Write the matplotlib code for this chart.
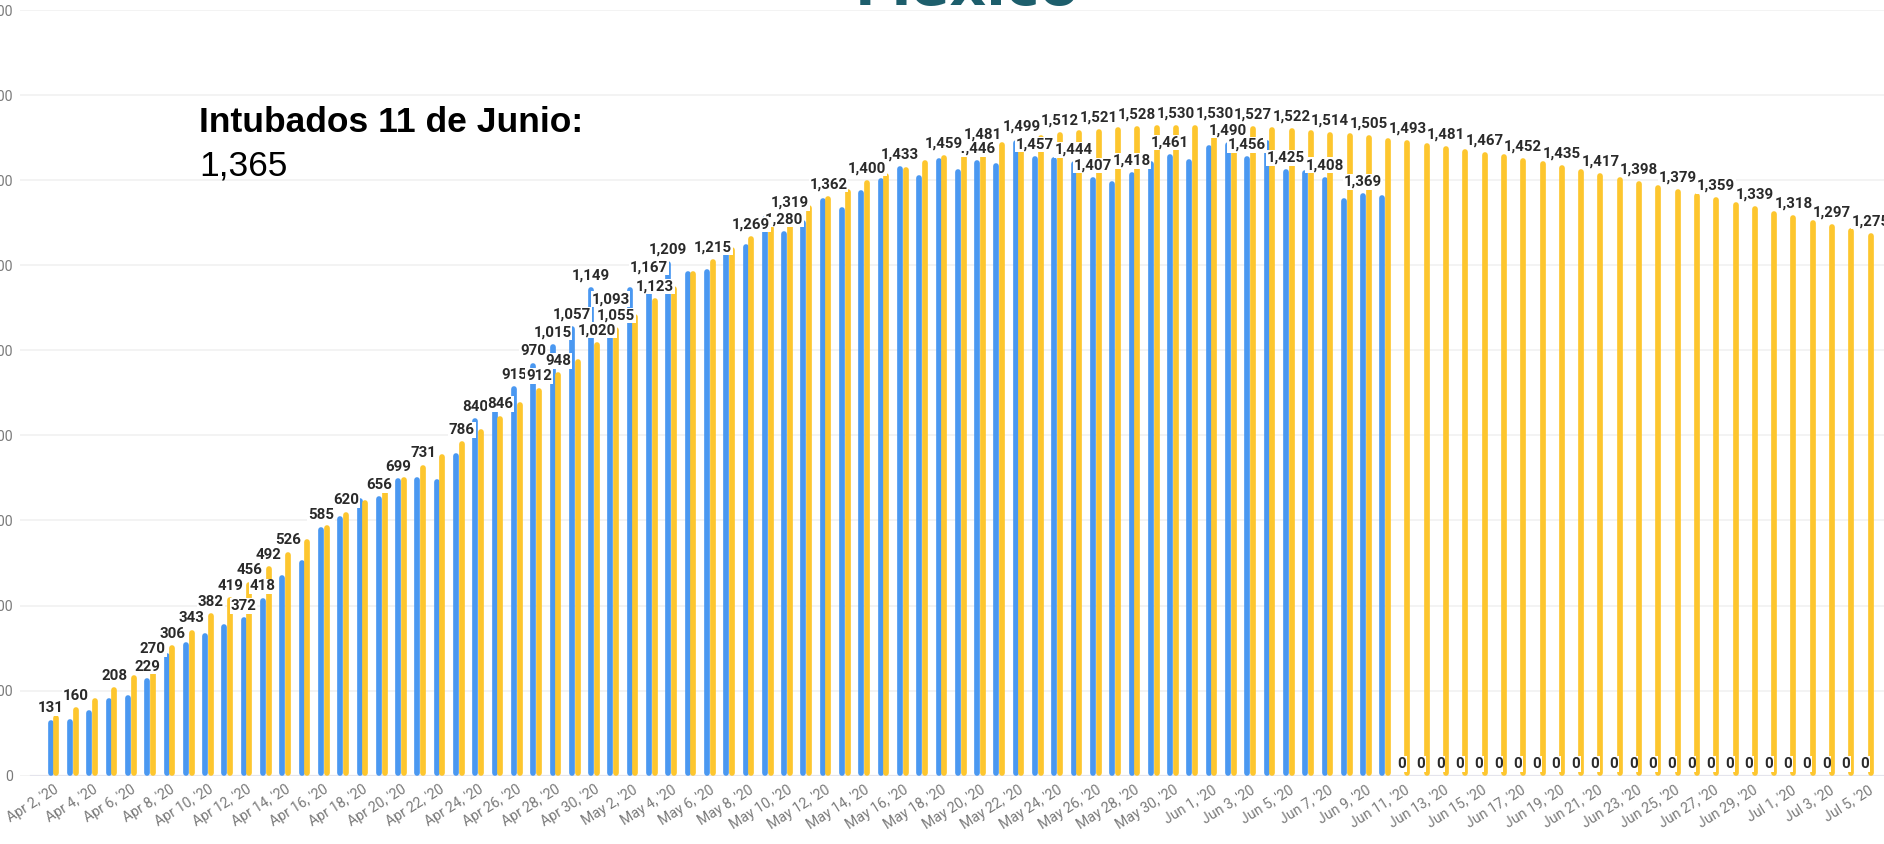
import matplotlib.pyplot as plt
import numpy as np

# intubados reales (azul) y modelo (amarillo), Apr 2 - Jul 5 2020
intubados = [131, 134, 153, 183, 190, 229, 289, 314, 335, 357,
             372, 418, 472, 506, 585, 609, 653, 656, 699, 702,
             698, 759, 840, 864, 915, 970, 1015, 1057, 1149, 1093,
             1148, 1167, 1209, 1185, 1190, 1232, 1250, 1316, 1280, 1305,
             1358, 1337, 1376, 1405, 1433, 1411, 1452, 1427, 1446, 1439,
             1493, 1457, 1454, 1444, 1407, 1397, 1418, 1444, 1461, 1449,
             1482, 1490, 1456, 1493, 1425, 1423, 1408, 1358, 1369, 1365,
             0, 0, 0, 0, 0, 0, 0, 0, 0, 0,
             0, 0, 0, 0, 0, 0, 0, 0, 0, 0,
             0, 0, 0, 0, 0]
modelo = [142, 160, 183, 208, 237, 270, 306, 343, 382, 419,
          456, 492, 526, 557, 590, 620, 647, 675, 702, 731,
          757, 786, 814, 846, 878, 912, 948, 980, 1020, 1055,
          1086, 1123, 1151, 1185, 1215, 1243, 1269, 1294, 1319, 1341,
          1362, 1380, 1400, 1416, 1431, 1446, 1459, 1470, 1481, 1490,
          1499, 1505, 1512, 1517, 1521, 1525, 1528, 1529, 1530, 1530,
          1530, 1529, 1527, 1525, 1522, 1518, 1514, 1510, 1505, 1499,
          1493, 1487, 1481, 1474, 1467, 1460, 1452, 1444, 1435, 1426,
          1417, 1408, 1398, 1389, 1379, 1369, 1359, 1349, 1339, 1328,
          1318, 1307, 1297, 1286, 1275]

tick_labels = ["Apr 2, '20", "Apr 4, '20", "Apr 6, '20", "Apr 8, '20", "Apr 10, '20",
               "Apr 12, '20", "Apr 14, '20", "Apr 16, '20", "Apr 18, '20", "Apr 20, '20",
               "Apr 22, '20", "Apr 24, '20", "Apr 26, '20", "Apr 28, '20", "Apr 30, '20",
               "May 2, '20", "May 4, '20", "May 6, '20", "May 8, '20", "May 10, '20",
               "May 12, '20", "May 14, '20", "May 16, '20", "May 18, '20", "May 20, '20",
               "May 22, '20", "May 24, '20", "May 26, '20", "May 28, '20", "May 30, '20",
               "Jun 1, '20", "Jun 3, '20", "Jun 5, '20", "Jun 7, '20", "Jun 9, '20",
               "Jun 11, '20", "Jun 13, '20", "Jun 15, '20", "Jun 17, '20", "Jun 19, '20",
               "Jun 21, '20", "Jun 23, '20", "Jun 25, '20", "Jun 27, '20", "Jun 29, '20",
               "Jul 1, '20", "Jul 3, '20", "Jul 5, '20"]

# which bars carry a visible value label (the rest were hidden by overlap)
blue_labels = [0, 5, 10, 11, 14, 17, 18, 22, 24, 25, 26, 27, 28, 29, 31, 32, 38,
               44, 48, 51, 53, 54, 56, 58, 61, 62, 64, 66, 68] + list(range(70, 95))
yellow_labels = [1, 3, 5, 6, 7, 8, 9, 10, 11, 12, 15, 19, 21, 23, 25, 26, 28, 29,
                 31, 34, 36, 38, 40, 42, 46, 48, 50, 52, 54, 56, 58, 60, 62, 64,
                 66, 68] + list(range(70, 95, 2))

BLUE = '#4a98f1'
YELLOW = '#fdc62e'

W, H = 1884, 844
fig = plt.figure(figsize=(W / 100, H / 100), dpi=100)
y0_px, y1800_px = 775.7, 10
ax = fig.add_axes([20 / W, 1 - y0_px / H, 1 - 20 / W, (y0_px - y1800_px) / H])

n = len(modelo)
x = np.arange(n)
xb = x - 0.15
xy = x + 0.15
blue = np.array(intubados)
yel = np.array(modelo)

lw = 4.1  # points
r = (lw / 72 * 100 / 2) / ((y0_px - y1800_px) / 1800)  # cap radius in data units
m = blue > 0
ax.vlines(xb[m], r, blue[m] - r, colors=BLUE, linewidth=lw, capstyle='round', zorder=2)
ax.vlines(xy, r, yel - r, colors=YELLOW, linewidth=lw, capstyle='round', zorder=2)

lab_kw = dict(textcoords='offset points', xytext=(0, 3.3), ha='center', va='bottom',
              fontsize=10.8, fontweight='bold', color='#2a2a2a', family='Roboto',
              zorder=4, annotation_clip=False,
              bbox=dict(boxstyle='square,pad=0.05', fc='white', ec='none'))
for i in blue_labels:
    ax.annotate(f"{blue[i]:,}", (xb[i], blue[i]), **lab_kw)
for i in yellow_labels:
    ax.annotate(f"{yel[i]:,}", (xy[i], yel[i]), **lab_kw)

ax.set_xlim((20 - 53.6) / 19.3, (W - 53.6) / 19.3)
ax.set_ylim(0, 1800)
ax.set_yticks(range(0, 1801, 200))
ax.set_yticklabels([str(v) for v in range(0, 1801, 200)])
ax.set_xticks(x[::2])
ax.set_xticklabels(tick_labels, rotation=32, ha='right', rotation_mode='anchor')
ax.tick_params(length=0, labelsize=10.2, labelcolor='#7a7a7a', pad=5)
for t in ax.get_xticklabels() + ax.get_yticklabels():
    t.set_family('Roboto')
for s in ax.spines.values():
    s.set_visible(False)
ax.yaxis.grid(True, color='#f1f1f1', linewidth=1.2, zorder=0)
ax.set_axisbelow(True)
ax.axhline(0, xmin=0.006, color='#e4e4ec', linewidth=1.6, zorder=1)

fig.text(199 / W, 1 - 131.7 / H, 'Intubados 11 de Junio:', fontsize=25.5,
         fontweight='bold', family='Liberation Sans', va='baseline', color='black')
fig.text(199 / W, 1 - 175.7 / H, '1,365', fontsize=25.5,
         family='Liberation Sans', va='baseline', color='black')
fig.text(967 / W, 1 - 5 / H, 'México', fontsize=41, fontweight='bold',
         ha='center', va='baseline', color='#1d5e6c')

fig.savefig('out.png', dpi=100)
